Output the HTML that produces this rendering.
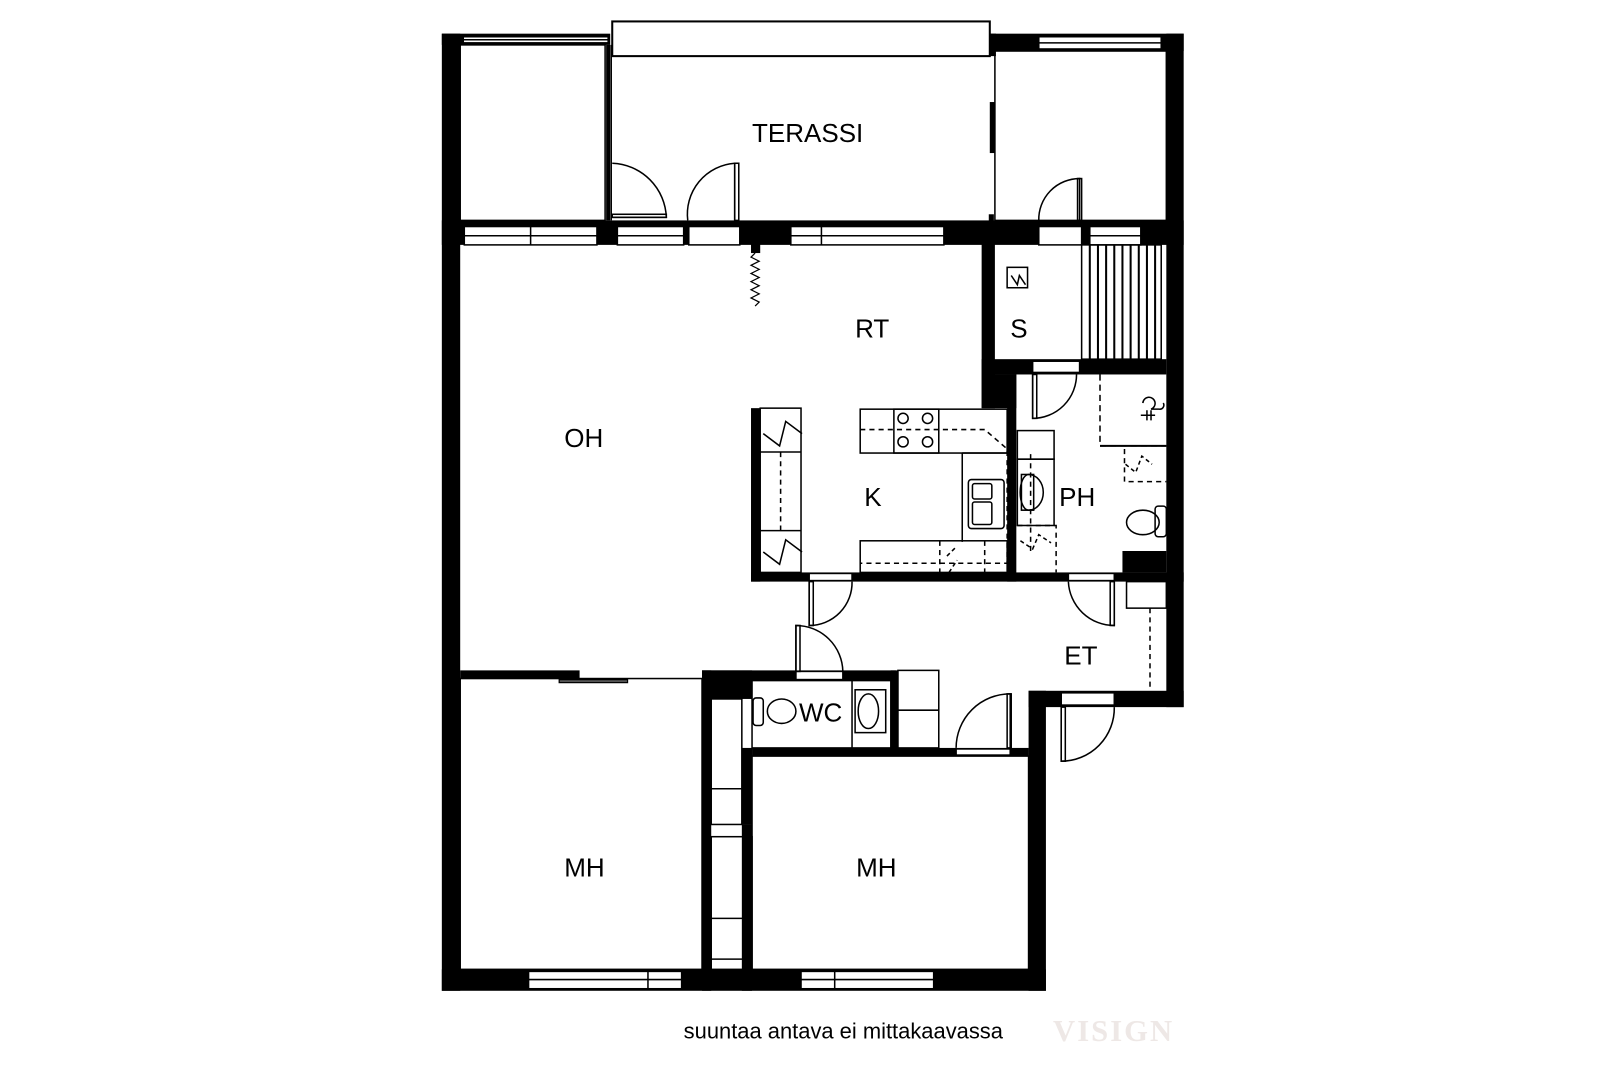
<!DOCTYPE html>
<html><head><meta charset="utf-8"><style>
html,body{margin:0;padding:0;background:#fff;}
svg{display:block;}
text{font-family:"Liberation Sans",sans-serif;fill:#000;}
</style></head><body>
<svg width="1600" height="1067" viewBox="0 0 1568 1045.7" preserveAspectRatio="none" xmlns="http://www.w3.org/2000/svg">
<g fill="#000">
<rect x="433" y="33" width="18" height="938"/>
<rect x="433" y="33" width="165" height="11"/>
<rect x="970" y="33" width="190" height="17"/>
<rect x="1143" y="33" width="17" height="660"/>
<rect x="433" y="216" width="727" height="24"/>
<rect x="962" y="238" width="13" height="162"/>
<rect x="962" y="352" width="181" height="15"/>
<rect x="962" y="367" width="34" height="33"/>
<rect x="736" y="400" width="9" height="170"/>
<rect x="736" y="561" width="424" height="9"/>
<rect x="987" y="367" width="9" height="203"/>
<rect x="1100" y="540" width="43" height="21"/>
<rect x="1008" y="677" width="152" height="16"/>
<rect x="1008" y="677" width="17" height="294"/>
<rect x="688" y="657" width="190" height="10"/>
<rect x="688" y="657" width="49" height="28"/>
<rect x="688" y="657" width="9" height="314"/>
<rect x="727" y="808" width="10" height="163"/>
<rect x="727" y="733" width="10" height="75"/>
<rect x="737" y="733" width="271" height="8"/>
<rect x="873" y="657" width="7" height="80"/>
<rect x="451" y="657" width="117" height="8"/>
<rect x="433" y="950" width="592" height="21"/>
<rect x="736" y="238" width="9" height="10"/>
<rect x="970" y="33" width="6" height="22"/>
<rect x="970" y="100" width="5" height="50"/>
<rect x="969" y="210" width="5" height="8"/>
</g>
<g fill="#fff" stroke="#000" stroke-width="1.5">
<rect x="454" y="36" width="142" height="6"/>
<rect x="1018" y="36" width="120" height="12"/>
<rect x="455" y="222" width="130" height="18"/>
<rect x="605" y="222" width="65" height="18"/>
<rect x="675" y="222" width="50" height="18"/>
<rect x="775" y="222" width="150" height="18"/>
<rect x="1018" y="222" width="42" height="18"/>
<rect x="1068" y="222" width="50" height="18"/>
<rect x="518" y="952" width="150" height="17"/>
<rect x="785" y="952" width="130" height="17"/>
<rect x="1012" y="354" width="46" height="11"/>
<rect x="793" y="562" width="42" height="7"/>
<rect x="1047" y="562" width="45" height="7"/>
<rect x="1040" y="679" width="52" height="12"/>
<rect x="780" y="658" width="46" height="8"/>
<rect x="937" y="734" width="53" height="6"/>
</g>
<g fill="none" stroke="#000" stroke-width="1.5">
<line x1="455" y1="231" x2="585" y2="231"/><line x1="520" y1="222" x2="520" y2="240"/>
<line x1="605" y1="231" x2="670" y2="231"/>
<line x1="775" y1="231" x2="925" y2="231"/><line x1="805" y1="222" x2="805" y2="240"/>
<line x1="1068" y1="231" x2="1118" y2="231"/>
<line x1="1018" y1="42" x2="1138" y2="42"/>
<line x1="454" y1="39" x2="596" y2="39"/>
<line x1="518" y1="960" x2="668" y2="960"/><line x1="635" y1="952" x2="635" y2="969"/>
<line x1="785" y1="960" x2="915" y2="960"/><line x1="818" y1="952" x2="818" y2="969"/>
<rect x="600" y="21" width="370" height="34" stroke-width="2"/>
<line x1="596" y1="44" x2="596" y2="216" stroke-width="4"/>
<line x1="599" y1="44" x2="599" y2="216"/>
<rect x="451" y="44" width="142" height="172"/>
<rect x="975" y="50" width="168" height="166"/>
<path d="M600 160 A55 55 0 0 1 653 213 L600 213" />
<rect x="600" y="210" width="53" height="3"/>
<path d="M720 160 L720 216 M674 216 A50 50 0 0 1 720 160" />
<rect x="720" y="160" width="4" height="56"/>
<path d="M1018 216 A40 40 0 0 1 1058 175 L1058 216"/>
<rect x="1056" y="175" width="4" height="41"/>
<path d="M740 248 l-4 4 l8 4 l-8 4 l8 4 l-8 4 l8 4 l-8 4 l8 4 l-8 4 l8 4 l-8 4 l8 4 l-4 4" stroke-width="1.2"/>
<rect x="987" y="262" width="20" height="20"/>
<path d="M991 270 l6 9 l2 -9 l6 9"/>
<rect x="1060" y="240" width="78" height="112"/>
<g stroke-width="2">
<line x1="1068" y1="240" x2="1068" y2="352"/><line x1="1076" y1="240" x2="1076" y2="352"/>
<line x1="1084" y1="240" x2="1084" y2="352"/><line x1="1092" y1="240" x2="1092" y2="352"/>
<line x1="1100" y1="240" x2="1100" y2="352"/><line x1="1108" y1="240" x2="1108" y2="352"/>
<line x1="1116" y1="240" x2="1116" y2="352"/><line x1="1124" y1="240" x2="1124" y2="352"/>
<line x1="1132" y1="240" x2="1132" y2="352"/>
</g>
<path d="M1012 367 L1012 410 A43 43 0 0 0 1055 367"/>
<rect x="1012" y="367" width="4" height="43"/>
<path d="M1078 367 L1078 437 L1143 437" stroke-dasharray="6,4"/>
<line x1="1078" y1="437" x2="1143" y2="437" stroke-width="2"/>
<path d="M1102 440 L1102 472 L1143 472" stroke-dasharray="5,4"/>
<path d="M1103 455 l10 8 l6 -16 l10 8" stroke-dasharray="4,3"/>
<path d="M1120 395 a6 6 0 1 1 8 6 l8 0 a4 4 0 0 0 4 -6 M1124 402 l0 10 M1128 402 l0 10 M1118 407 l14 0"/>
<ellipse cx="1120" cy="512" rx="16" ry="12"/>
<rect x="1132" y="496" width="11" height="30" rx="3"/>
<rect x="997" y="422" width="36" height="28"/>
<rect x="997" y="450" width="36" height="65"/>
<rect x="1001" y="465" width="12" height="35"/>
<path d="M1008 465 a14 17 0 0 1 0 35 a8 17 0 0 1 0 -35"/>
<path d="M1010 445 L1010 540" stroke-dasharray="5,4"/>
<path d="M997 515 L1035 515 L1035 561" stroke-dasharray="5,4"/>
<path d="M1000 530 l12 8 l6 -14 l12 8" stroke-dasharray="4,3"/>
<rect x="745" y="400" width="40" height="161"/>
<line x1="745" y1="443" x2="785" y2="443"/><line x1="745" y1="520" x2="785" y2="520"/>
<path d="M765 443 L765 520" stroke-dasharray="5,4"/>
<path d="M748 425 l16 12 l6 -24 l16 12"/>
<path d="M748 541 l16 12 l6 -24 l16 12"/>
<rect x="843" y="401" width="144" height="43"/>
<rect x="876" y="401" width="44" height="43"/>
<circle cx="885" cy="410" r="5"/><circle cx="909" cy="410" r="5"/>
<circle cx="885" cy="433" r="5"/><circle cx="909" cy="433" r="5"/>
<line x1="943" y1="444" x2="943" y2="531"/>
<line x1="943" y1="444" x2="987" y2="444"/>
<rect x="843" y="530" width="144" height="31"/>
<path d="M843 421 L965 421 L987 440 L987 552 L843 552" stroke-dasharray="5,4"/>
<path d="M921 530 L921 561 M965 530 L965 561" stroke-dasharray="5,4"/>
<path d="M928 545 l8 -8 M930 561 l8 -12" stroke-dasharray="4,3"/>
<rect x="949" y="470" width="35" height="48" rx="3"/>
<rect x="953" y="474" width="19" height="15" rx="2"/>
<rect x="953" y="492" width="19" height="22" rx="2"/>
<path d="M793 570 L793 613 A42 42 0 0 0 835 570"/>
<rect x="793" y="570" width="4" height="43"/>
<path d="M1092 570 L1092 613 A45 45 0 0 1 1047 570"/>
<rect x="1088" y="570" width="4" height="43"/>
<rect x="1104" y="570" width="39" height="26"/>
<path d="M1127 596 L1127 677" stroke-dasharray="5,4"/>
<path d="M780 658 L780 613 A46 46 0 0 1 826 658"/>
<rect x="780" y="613" width="4" height="45"/>
<rect x="737" y="667" width="136" height="66"/>
<line x1="835" y1="667" x2="835" y2="733"/>
<ellipse cx="766" cy="697" rx="14" ry="12"/>
<rect x="738" y="684" width="10" height="27" rx="3"/>
<rect x="838" y="676" width="30" height="42"/>
<ellipse cx="851" cy="697" rx="10" ry="17"/>
<rect x="880" y="657" width="40" height="76"/>
<line x1="880" y1="696" x2="920" y2="696"/>
<path d="M937 733 A53 53 0 0 1 990 680 L990 733"/>
<rect x="987" y="680" width="4" height="53"/>
<path d="M1040 693 L1040 746 A52 52 0 0 0 1092 693"/>
<rect x="1040" y="693" width="4" height="53"/>
<rect x="697" y="685" width="30" height="123"/>
<line x1="697" y1="773" x2="727" y2="773"/>
<rect x="697" y="820" width="40" height="130"/>
<line x1="697" y1="900" x2="737" y2="900"/>
<line x1="697" y1="940" x2="737" y2="940"/>
<rect x="737" y="741" width="271" height="209"/>
<rect x="451" y="665" width="237" height="285"/>
<rect x="548" y="666" width="67" height="3" stroke-width="1.2" fill="#555"/>
</g>
<g font-size="25.5">
<text x="737" y="139">TERASSI</text>
<text x="838" y="331">RT</text>
<text x="990" y="331">S</text>
<text x="553" y="438">OH</text>
<text x="847" y="496">K</text>
<text x="1038" y="496">PH</text>
<text x="1043" y="651">ET</text>
<text x="783" y="707">WC</text>
<text x="553" y="859">MH</text>
<text x="839" y="859">MH</text>
</g>
<text x="670" y="1018" font-size="21.5">suuntaa antava ei mittakaavassa</text>
<text x="1032" y="1020" font-size="30" font-weight="bold" style="font-family:'Liberation Serif',serif;fill:#eee8e6;letter-spacing:2px">VISIGN</text>
</svg>
</body></html>
